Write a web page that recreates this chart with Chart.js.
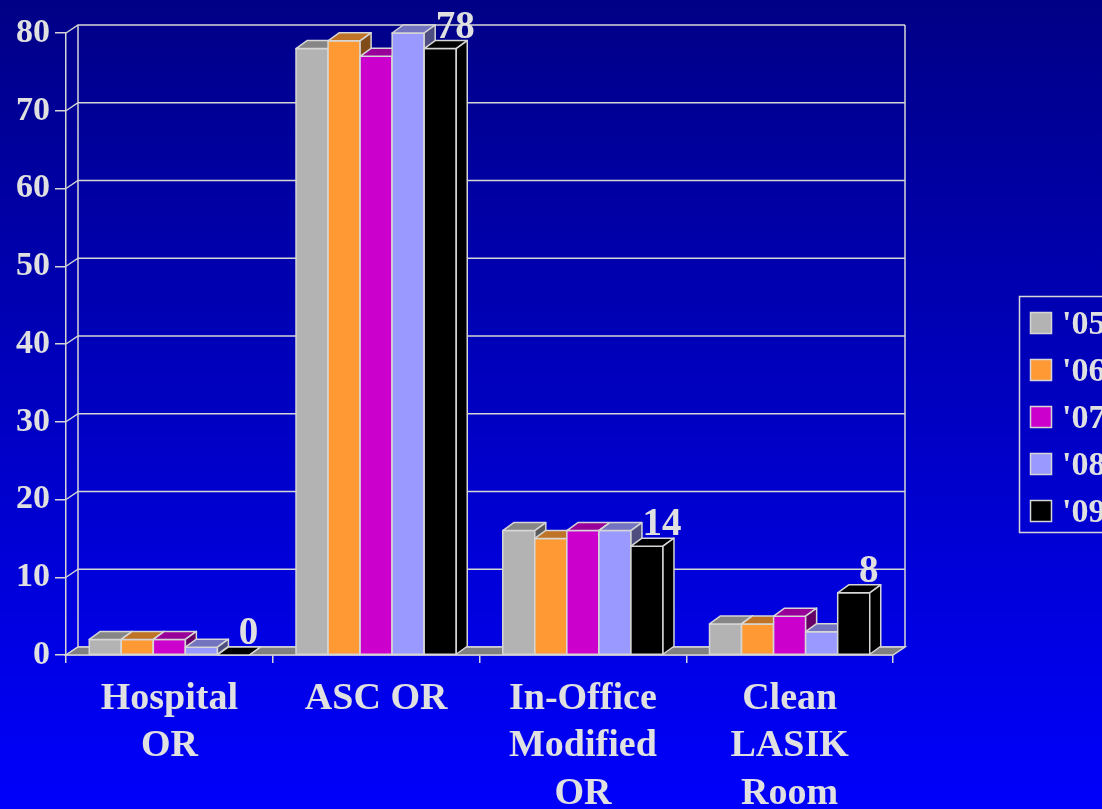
<!DOCTYPE html>
<html>
<head>
<meta charset="utf-8">
<script src="https://cdn.jsdelivr.net/npm/chart.js@4"></script>
<style>
  html, body { margin: 0; padding: 0; overflow: hidden; background: #0000ff; }
  canvas { display: block; }
</style>
</head>
<body>
<canvas id="chart" width="1102" height="809"></canvas>
<script>
// --- Chart data ---
const CATEGORIES = [['Hospital', 'OR'], ['ASC OR'], ['In-Office', 'Modified', 'OR'], ['Clean', 'LASIK', 'Room']];
const SERIES_LABELS = ["'05", "'06", "'07", "'08", "'09"];
const SERIES_COLORS = ['#b3b3b3', '#ff9933', '#cc00cc', '#9999ff', '#000000'];
const VALUES_05 = [2, 78, 16, 4];
const VALUES_06 = [2, 79, 15, 4];
const VALUES_07 = [2, 77, 16, 5];
const VALUES_08 = [1, 80, 16, 3];
const VALUES_09 = [0, 78, 14, 8];
const Y_TICKS = [0, 10, 20, 30, 40, 50, 60, 70, 80];
const LABELLED_SERIES = 4; // values printed above the '09 bars

const SERIES_VALUES = [VALUES_05, VALUES_06, VALUES_07, VALUES_08, VALUES_09];

const TEXT = '#e0e0e0';
const EDGE = '#d6d6d6';
const FONT = '"Liberation Serif", "Times New Roman", serif';
const WALL_DX = 12, WALL_DY = 8;  // depth of floor / back wall
const BAR_DX = 11, BAR_DY = 8;    // depth of each bar

function shade(hex, f) {
  const n = parseInt(hex.slice(1), 16);
  const r = Math.round(((n >> 16) & 255) * f);
  const g = Math.round(((n >> 8) & 255) * f);
  const b = Math.round((n & 255) * f);
  return `rgb(${r},${g},${b})`;
}

function poly(ctx, pts, fill, stroke, lw) {
  ctx.beginPath();
  ctx.moveTo(pts[0][0], pts[0][1]);
  for (let i = 1; i < pts.length; i++) ctx.lineTo(pts[i][0], pts[i][1]);
  ctx.closePath();
  if (fill) { ctx.fillStyle = fill; ctx.fill(); }
  if (stroke) { ctx.strokeStyle = stroke; ctx.lineWidth = lw || 1.5; ctx.stroke(); }
}

// background gradient
const backgroundPlugin = {
  id: 'bg',
  beforeDraw(chart) {
    const { ctx, width, height } = chart;
    const g = ctx.createLinearGradient(0, 0, 0, height);
    g.addColorStop(0, '#000086');
    g.addColorStop(1, '#0000fc');
    ctx.save();
    ctx.fillStyle = g;
    ctx.fillRect(0, 0, width, height);
    ctx.restore();
  }
};

// back wall, side wall diagonals and floor
const wallPlugin = {
  id: 'walls',
  beforeDatasetsDraw(chart) {
    const { ctx, chartArea: a, scales: { y } } = chart;
    const base = y.getPixelForValue(0);
    const top = y.getPixelForValue(80);
    ctx.save();
    ctx.strokeStyle = EDGE;
    ctx.lineWidth = 1.5;
    Y_TICKS.forEach(v => {
      const py = y.getPixelForValue(v);
      ctx.beginPath();
      ctx.moveTo(a.left, py);
      ctx.lineTo(a.left + WALL_DX, py - WALL_DY);
      ctx.lineTo(a.right + WALL_DX, py - WALL_DY);
      ctx.stroke();
    });
    ctx.beginPath();
    ctx.moveTo(a.left + WALL_DX, top - WALL_DY);
    ctx.lineTo(a.left + WALL_DX, base - WALL_DY);
    ctx.moveTo(a.right + WALL_DX, top - WALL_DY);
    ctx.lineTo(a.right + WALL_DX, base - WALL_DY);
    ctx.stroke();
    poly(ctx, [[a.left, base], [a.right, base], [a.right + WALL_DX, base - WALL_DY], [a.left + WALL_DX, base - WALL_DY]], '#808080', EDGE, 1.5);
    ctx.restore();
  }
};

// 3D bars, drawn left to right so each front face covers the side of its neighbour
const barsPlugin = {
  id: 'bars3d',
  afterDatasetsDraw(chart) {
    const { ctx } = chart;
    const metas = chart.data.datasets.map((d, i) => chart.getDatasetMeta(i));
    ctx.save();
    ctx.lineJoin = 'round';
    CATEGORIES.forEach((c, ci) => {
      metas.forEach((meta, di) => {
        const el = meta.data[ci];
        const { x, y, base, width } = el.getProps(['x', 'y', 'base', 'width'], true);
        const col = SERIES_COLORS[di];
        const l = x - width / 2, r = x + width / 2;
        if (base - y > 0.5) {
          poly(ctx, [[l, y], [r, y], [r, base], [l, base]], col, EDGE, 1.5);
        }
        poly(ctx, [[l, y], [r, y], [r + BAR_DX, y - BAR_DY], [l + BAR_DX, y - BAR_DY]], shade(col, 0.75), EDGE, 1.5);
        poly(ctx, [[r, y], [r + BAR_DX, y - BAR_DY], [r + BAR_DX, base - BAR_DY], [r, base]], shade(col, 0.5), EDGE, 1.5);
      });
    });
    // value labels over the '09 bars
    const meta = metas[LABELLED_SERIES];
    ctx.fillStyle = TEXT;
    ctx.font = `bold 39px ${FONT}`;
    ctx.textAlign = 'center';
    ctx.textBaseline = 'alphabetic';
    meta.data.forEach((el, i) => {
      const { x, y } = el.getProps(['x', 'y'], true);
      ctx.fillText(String(SERIES_VALUES[LABELLED_SERIES][i]), x + 15, y - 11);
    });
    ctx.restore();
  }
};

// legend box at the right, running off the edge like the original slide
const legendPlugin = {
  id: 'legendBox',
  afterDraw(chart) {
    const { ctx } = chart;
    const x0 = 1019, y0 = 296, rowH = 47;
    ctx.save();
    ctx.strokeStyle = EDGE;
    ctx.lineWidth = 1.5;
    ctx.strokeRect(x0 + 0.5, y0 + 0.5, 120, 236);
    ctx.font = `bold 34px ${FONT}`;
    ctx.textBaseline = 'middle';
    ctx.textAlign = 'left';
    SERIES_LABELS.forEach((lab, i) => {
      const cy = y0 + 27 + i * rowH;
      ctx.fillStyle = SERIES_COLORS[i];
      ctx.fillRect(1030, cy - 11, 22, 22);
      ctx.strokeStyle = EDGE;
      ctx.strokeRect(1030.5, cy - 10.5, 21, 21);
      ctx.fillStyle = TEXT;
      ctx.fillText(lab, 1062, cy + 2);
    });
    ctx.restore();
  }
};

new Chart(document.getElementById('chart'), {
  type: 'bar',
  data: {
    labels: CATEGORIES,
    datasets: SERIES_LABELS.map((lab, i) => ({
      label: lab,
      data: SERIES_VALUES[i],
      backgroundColor: SERIES_COLORS[i],
      borderWidth: 0,
      barPercentage: 1,
      categoryPercentage: 0.775
    }))
  },
  options: {
    responsive: false,
    animation: false,
    devicePixelRatio: 1,
    layout: { padding: { left: 0, right: 209, top: 33, bottom: 0 } },
    plugins: { legend: { display: false }, tooltip: { enabled: false } },
    scales: {
      y: {
        min: 0, max: 80,
        afterFit(scale) { scale.width = 66; },
        ticks: { stepSize: 10, color: TEXT, padding: 5, font: { family: FONT, size: 34, weight: 'bold' } },
        grid: { drawOnChartArea: false, color: EDGE, lineWidth: 1.5, tickLength: 11 },
        border: { color: EDGE, width: 1.5 }
      },
      x: {
        afterFit(scale) { scale.height = 154; },
        ticks: { color: TEXT, padding: 13, maxRotation: 0, font: { family: FONT, size: 38, weight: 'bold', lineHeight: 1.24 } },
        grid: { drawOnChartArea: false, offset: true, color: EDGE, lineWidth: 1.5, tickLength: 8 },
        border: { color: EDGE, width: 1.5 }
      }
    }
  },
  plugins: [backgroundPlugin, wallPlugin, barsPlugin, legendPlugin]
});
</script>
</body>
</html>
